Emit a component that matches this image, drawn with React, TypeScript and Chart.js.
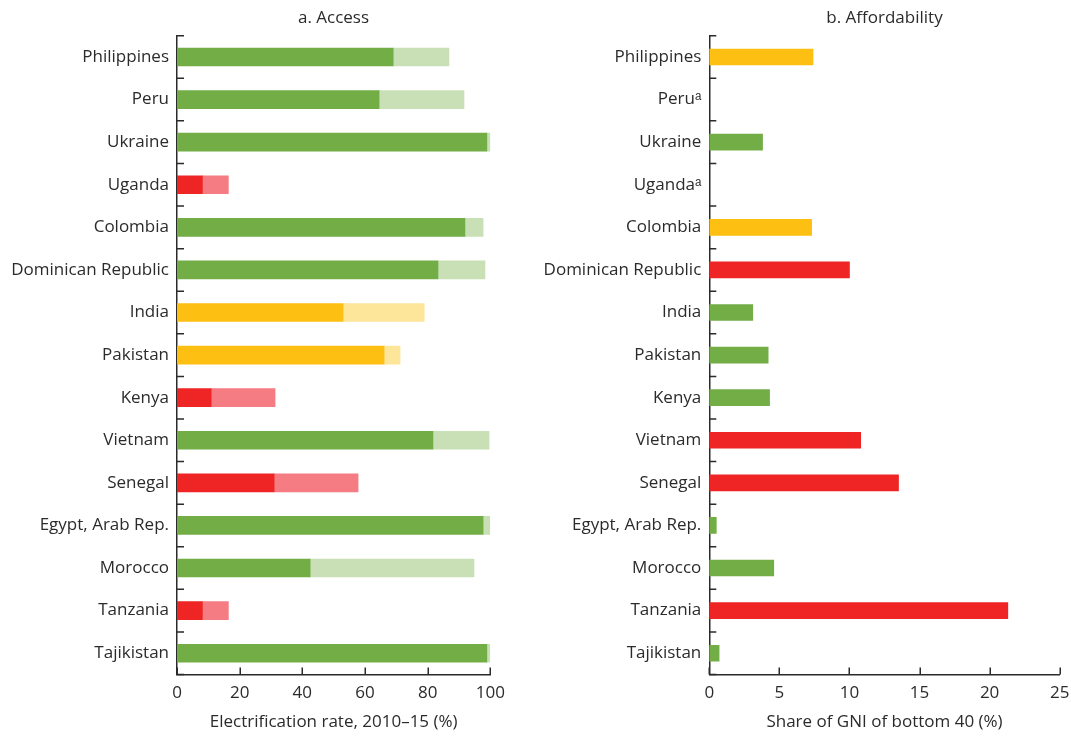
import React, { useEffect, useRef } from "react";
import { Chart, registerables } from "chart.js";

Chart.register(...registerables);

const categories = [
  "Philippines",
  "Peru",
  "Ukraine",
  "Uganda",
  "Colombia",
  "Dominican Republic",
  "India",
  "Pakistan",
  "Kenya",
  "Vietnam",
  "Senegal",
  "Egypt, Arab Rep.",
  "Morocco",
  "Tanzania",
  "Tajikistan",
];
const affordLabels = [
  "Philippines",
  "Peruᵃ",
  "Ukraine",
  "Ugandaᵃ",
  "Colombia",
  "Dominican Republic",
  "India",
  "Pakistan",
  "Kenya",
  "Vietnam",
  "Senegal",
  "Egypt, Arab Rep.",
  "Morocco",
  "Tanzania",
  "Tajikistan",
];
const access2010 = [69.0, 64.5, 98.9, 8.1, 91.9, 83.3, 53.0, 66.1, 10.9, 81.7, 31.0, 97.7, 42.5, 8.1, 98.9];
const access2015 = [86.8, 91.6, 100, 16.4, 97.7, 98.3, 78.9, 71.2, 31.3, 99.6, 57.8, 99.9, 94.8, 16.4, 99.9];
const accessStatus = ["g", "g", "g", "r", "g", "g", "y", "y", "r", "g", "r", "g", "g", "r", "g"];
const affordability = [7.4, null, 3.8, null, 7.3, 10.0, 3.1, 4.2, 4.3, 10.8, 13.5, 0.5, 4.6, 21.3, 0.7];
const affordStatus = ["y", null, "g", null, "y", "r", "g", "g", "g", "r", "r", "g", "g", "r", "g"];
const accessTicks = [0, 20, 40, 60, 80, 100];
const affordTicks = [0, 5, 10, 15, 20, 25];

const DARK: Record<string, string> = { g: "#72AD46", y: "#FCBF12", r: "#EE2524" };
const LIGHT: Record<string, string> = { g: "#C9E0B6", y: "#FDE59A", r: "#F47C82" };
const AXIS = "#2b2b2b";
const TEXT = "#2b2b2b";
const FONT = "'Open Sans', sans-serif";
const FS = 17;

const inwardTicks = {
  id: "inwardTicks",
  afterDraw(chart: any) {
    const { ctx, chartArea, scales } = chart;
    const x = scales.x;
    const y = scales.y;
    ctx.save();
    ctx.strokeStyle = AXIS;
    ctx.lineWidth = 1.5;
    ctx.beginPath();
    x.ticks.forEach((_t: any, i: number) => {
      const px = Math.round(x.getPixelForTick(i)) + 0.25;
      ctx.moveTo(px, chartArea.bottom);
      ctx.lineTo(px, chartArea.bottom - 7);
    });
    const n = y.ticks.length;
    for (let i = 0; i <= n; i++) {
      const py = y.getPixelForValue(i - 0.5);
      ctx.moveTo(chartArea.left, py);
      ctx.lineTo(chartArea.left + 7, py);
    }
    ctx.stroke();
    ctx.restore();
  },
};

function makeOptions(opts: {
  max: number;
  step: number;
  tickVals: number[];
  title: string;
  yWidth: number;
  padRight: number;
  stacked: boolean;
}) {
  return {
    indexAxis: "y" as const,
    animation: false as const,
    responsive: false,
    maintainAspectRatio: false,
    layout: { padding: { top: 35.7, right: opts.padRight, bottom: 0, left: 0 } },
    plugins: { legend: { display: false }, tooltip: { enabled: false }, title: { display: false } },
    scales: {
      x: {
        type: "linear" as const,
        min: 0,
        max: opts.max,
        stacked: opts.stacked,
        afterBuildTicks: (scale: any) => {
          scale.ticks = opts.tickVals.map((v) => ({ value: v }));
        },
        ticks: {
          stepSize: opts.step,
          color: TEXT,
          font: { family: FONT, size: FS },
          padding: 8,
          maxRotation: 0,
        },
        grid: { display: false, drawTicks: false },
        border: { display: true, color: AXIS, width: 1.5 },
        title: {
          display: true,
          text: opts.title,
          color: TEXT,
          font: { family: FONT, size: FS },
          padding: { top: 0, bottom: 6 },
        },
        afterFit: (scale: any) => {
          scale.height = 738 - 674.5;
          scale.paddingLeft = 0;
          scale.paddingRight = 0;
        },
      },
      y: {
        type: "category" as const,
        stacked: opts.stacked,
        ticks: {
          color: TEXT,
          font: { family: FONT, size: FS },
          padding: 8,
          autoSkip: false,
        },
        grid: { display: false, drawTicks: false },
        border: { display: true, color: AXIS, width: 1.5 },
        afterFit: (scale: any) => {
          scale.width = opts.yWidth;
          scale.paddingTop = 0;
          scale.paddingBottom = 0;
        },
      },
    },
  };
}

function AccessChart() {
  const ref = useRef<HTMLCanvasElement>(null);
  useEffect(() => {
    if (!ref.current) return;
    const chart = new Chart(ref.current, {
      type: "bar",
      data: {
        labels: categories,
        datasets: [
          {
            label: "2010",
            data: access2010,
            backgroundColor: accessStatus.map((s) => DARK[s]),
            barThickness: 18,
            borderWidth: 0,
          },
          {
            label: "2015",
            data: access2015.map((v, i) => v - access2010[i]),
            backgroundColor: accessStatus.map((s) => LIGHT[s]),
            barThickness: 18,
            borderWidth: 0,
          },
        ],
      },
      options: makeOptions({
        max: 100,
        step: 20,
        tickVals: accessTicks,
        title: "Electrification rate, 2010–15 (%)",
        yWidth: 177,
        padRight: 540 - 490.3,
        stacked: true,
      }) as any,
      plugins: [inwardTicks],
    });
    return () => chart.destroy();
  }, []);
  return <canvas ref={ref} width={540} height={738} style={{ position: "absolute", left: 0, top: 0 }} />;
}

function AffordChart() {
  const ref = useRef<HTMLCanvasElement>(null);
  useEffect(() => {
    if (!ref.current) return;
    const chart = new Chart(ref.current, {
      type: "bar",
      data: {
        labels: affordLabels,
        datasets: [
          {
            label: "Share",
            data: affordability as any,
            backgroundColor: affordStatus.map((s) => (s ? DARK[s] : "transparent")),
            barThickness: 16,
            borderWidth: 0,
          },
        ],
      },
      options: makeOptions({
        max: 25,
        step: 5,
        tickVals: affordTicks,
        title: "Share of GNI of bottom 40 (%)",
        yWidth: 709.3 - 538,
        padRight: 1071 - 1059.7,
        stacked: false,
      }) as any,
      plugins: [inwardTicks],
    });
    return () => chart.destroy();
  }, []);
  return <canvas ref={ref} width={533} height={738} style={{ position: "absolute", left: 538, top: 0 }} />;
}

const titleStyle: React.CSSProperties = {
  position: "absolute",
  top: 5,
  fontFamily: FONT,
  fontSize: FS,
  color: TEXT,
  lineHeight: "24px",
  transform: "translateX(-50%)",
  whiteSpace: "nowrap",
};

export default function App() {
  return (
    <div style={{ position: "absolute", left: 0, top: 0, width: 1071, height: 738, background: "#fff" }}>
      <AccessChart />
      <AffordChart />
      <div style={{ ...titleStyle, left: 333.5 }}>a. Access</div>
      <div style={{ ...titleStyle, left: 884.5 }}>b. Affordability</div>
    </div>
  );
}
